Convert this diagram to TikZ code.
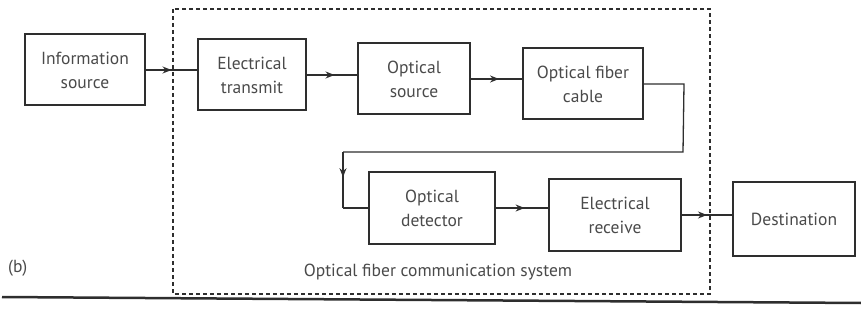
\documentclass[tikz,border=0pt]{standalone}
\usepackage{fontspec}
\setmainfont{PT Sans}
\usetikzlibrary{arrows.meta,decorations.markings,calc}
\definecolor{ink}{HTML}{2E2E2E}
\definecolor{txt}{HTML}{4A4A4A}
\begin{document}
\begin{tikzpicture}[x=1pt,y=-1pt,
  blk/.style={draw=ink,line width=2pt,minimum width=#1,minimum height=71pt,inner sep=0pt,
    align=center,text=txt,font=\fontsize{17.5}{24}\selectfont},
  blk/.default=120pt,
  conn/.style={draw=ink,line width=1.3pt},
  midarrow/.style={conn,postaction={decorate},decoration={markings,
    mark=at position #1 with {\arrow{Stealth[length=9pt,width=7pt]}}}},
  midarrow/.default=0.55,
  frame/.style={draw=ink,line width=1.3pt,dash pattern=on 4pt off 3pt},
  lbl/.style={text=txt,font=\fontsize{17.5}{20}\selectfont,inner sep=0pt}]
\useasboundingbox (0,0) rectangle (861,320);
% dashed system frame
\draw[frame] (173,9) rectangle (710,294);
% blocks
\node[blk=120pt] (info) at (85,70) {Information\\source};
\node[blk=108pt] (etx) at (252,75) {Electrical\\transmit};
\node[blk=112pt] (osrc) at (414,79) {Optical\\source};
\node[blk=120pt] (ofc) at (583,84) {Optical fiber\\cable};
\node[blk=126pt] (odet) at (432,208) {Optical\\detector};
\node[blk=132pt] (erx) at (615,215) {Electrical\\receive};
\node[blk=122pt,minimum height=73pt] (dest) at (794,219) {Destination};
% connectors
\draw[midarrow=0.5] (info.east) -- (info.east -| etx.west);
\draw[midarrow] (etx.east) -- (etx.east -| osrc.west);
\draw[midarrow] (osrc.east) -- (osrc.east -| ofc.west);
\coordinate (c1) at ($(ofc.east)+(40,0)$);
\coordinate (c2) at (683,152);
\coordinate (c3) at (343,152);
\coordinate (c4) at (343,208);
\draw[conn] (ofc.east) -- (c1) -- (c2) -- (c3);
\draw[midarrow=0.45] (c3) -- (c4);
\draw[conn] (c4) -- (odet.west);
\draw[midarrow] (odet.east) -- (odet.east -| erx.west);
\draw[midarrow=0.5] (erx.east) -- (erx.east -| dest.west);
% labels
\node[lbl] (sys) at (438,272) {Optical fiber communication system};
\node[lbl,anchor=west] (fig) at (8,268) {(b)};
% bottom rule
\draw[ink,line width=2.5pt] (2,297) -- (861,303);
\end{tikzpicture}
\end{document}
